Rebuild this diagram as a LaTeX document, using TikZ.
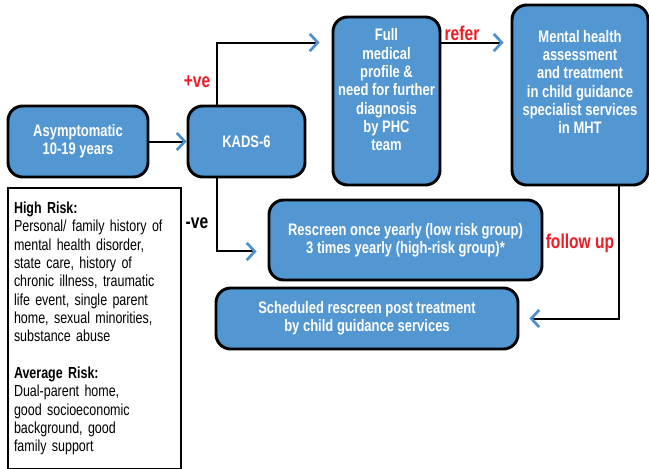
\documentclass[tikz,border=0pt]{standalone}
\usepackage{fontspec}
\setmainfont{Liberation Sans}[FakeStretch=0.78]
\usetikzlibrary{arrows.meta}
\definecolor{boxblue}{RGB}{82,150,210}
\definecolor{chevblue}{RGB}{74,144,208}
\definecolor{labelred}{RGB}{237,28,36}

\begin{document}
\begin{tikzpicture}[x=0.75pt,y=-0.75pt,>={Straight Barb[color=chevblue,length=6pt,width=13pt,line width=2pt]},
    flow/.style={->,line width=1.5pt,black},
    blue box/.style={draw,line width=2.2pt,fill=boxblue,rounded corners=11pt,align=center,text=white,font=\bfseries\fontsize{12.5}{13.75}\selectfont},
    box text/.style={align=center,text=white,font=\bfseries\fontsize{12.5}{13.75}\selectfont},
    flow label/.style={font=\bfseries\fontsize{15}{17}\selectfont,text=labelred}]
    \useasboundingbox (0,0) rectangle (649,468);

    \node[blue box,minimum width=105pt,minimum height=53.25pt] (asym) at (78,141.5) {Asymptomatic\\10-19 years};
    \node[blue box,minimum width=87.75pt,minimum height=53.25pt] (kads) at (246.5,141.5) {KADS-6};
    \node[blue box,minimum width=80.25pt,minimum height=126pt] (full) at (386.5,101) {};
    \node[box text] (fulltext) at (386.5,90) {Full\\medical\\profile \&\\need for further\\diagnosis\\by PHC\\team};
    \node[blue box,minimum width=102pt,minimum height=135pt] (mh) at (580,95) {};
    \node[box text] (mhtext) at (580,82) {Mental health\\assessment\\and treatment\\in child guidance\\specialist services\\in MHT};
    \node[blue box,minimum width=204.75pt,minimum height=60pt] (rescreen) at (405.5,240) {Rescreen once yearly (low risk group)\\3 times yearly (high-risk group)*};
    \node[blue box,minimum width=226.5pt,minimum height=45.75pt] (sched) at (367,318.5) {Scheduled rescreen post treatment\\by child guidance services};

    \node[draw,line width=1.5pt,anchor=north west,minimum height=210.75pt,text width=121pt,inner xsep=4.5pt,align=left,font=\fontsize{12}{13.75}\selectfont] (risk) at (7,187)
        {\textbf{High Risk:}\\Personal/ family history of\\mental health disorder,\\state care, history of\\chronic illness, traumatic\\life event, single parent\\home, sexual minorities,\\substance abuse\\[13.75pt]\textbf{Average Risk:}\\Dual-parent home,\\good socioeconomic\\background, good\\family support};

    \node[flow label] (pos) at (197,82) {+ve};
    \node[flow label] (refer) at (462,33) {refer};
    \node[flow label,text=black] (neg) at (197,223) {-ve};
    \node[flow label] (follow) at (580,243) {follow up};

    \draw[flow] (asym.east) -- (kads.west);
    \draw[flow] ([shift={(30,0)}]kads.north west) |- ([shift={(-12,27)}]full.north west);
    \draw[flow] ([shift={(0,27)}]full.north east) -- ([shift={(-7,39)}]mh.north west);
    \draw[flow] ([shift={(-30,0)}]mh.south east) |- ([shift={(10,0)}]sched.east);
    \draw[flow] ([shift={(30,0)}]kads.south west) |- ([shift={(-11,-30)}]rescreen.south west);
\end{tikzpicture}
\end{document}
